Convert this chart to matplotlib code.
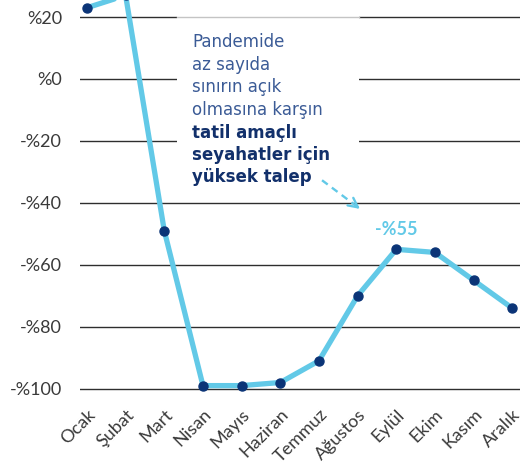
import matplotlib
matplotlib.use("Agg")
import matplotlib.pyplot as plt
from matplotlib.patches import Rectangle

months = ["Ocak", "Şubat", "Mart", "Nisan", "Mayıs", "Haziran", "Temmuz",
          "Ağustos", "Eylül", "Ekim", "Kasım", "Aralık"]
values = [23, 27, -49, -99, -99, -98, -91, -70, -55, -56, -65, -74]
yticks = [20, 0, -20, -40, -60, -80, -100]
ytick_labels = ["%20", "%0", "-%20", "-%40", "-%60", "-%80", "-%100"]
peak_label = "-%55"
note_normal = ["Pandemide", "az sayıda", "sınırın açık", "olmasına karşın"]
note_bold = ["tatil amaçlı", "seyahatler için", "yüksek talep"]

plt.rcParams['font.family'] = ['Lato', 'DejaVu Sans']

LINE = "#62c9e7"
DOT = "#0b3477"
fig = plt.figure(figsize=(5.32, 4.73), dpi=100)
ax = fig.add_axes([80/532, (473-398)/473, 440/532, 398/473])

x = list(range(len(months)))
ax.plot(x, values, color=LINE, lw=3.8, zorder=3, solid_capstyle='round',
        solid_joinstyle='round')
ax.plot(x, values, 'o', color=DOT, ms=6.5, zorder=4)

ax.set_xlim(-0.18, 11.2)
ax.set_ylim(-103, 25.5)
ax.set_yticks(yticks)
ax.set_yticklabels(ytick_labels, fontsize=13, color="#3a3a3a")
ax.set_xticks(x)
ax.set_xticklabels(months, rotation=45, ha='right', va='top',
                   rotation_mode='anchor', fontsize=13, color="#3a3a3a")
ax.tick_params(axis='both', length=0)
ax.tick_params(axis='y', pad=13)
ax.tick_params(axis='x', pad=6)
for s in ax.spines.values():
    s.set_visible(False)
ax.yaxis.grid(True, color="#2e2e2e", lw=1.0)
ax.set_axisbelow(True)

# annotation box
ax.add_patch(Rectangle((2.33, -39.3), 4.71, 60.0, facecolor='white',
                       edgecolor='none', zorder=1.5))
ax.plot([2.33, 7.04], [20, 20], color="#c4c4c4", lw=1.0, zorder=1.6)
ys = [12.0, 4.6, -2.7, -10.1, -17.5, -24.7, -31.8]
lines = note_normal + note_bold
for i, (t, yy) in enumerate(zip(lines, ys)):
    bold = i >= len(note_normal)
    ax.text(2.72, yy, t, fontsize=12, va='center', ha='left',
            family='DejaVu Sans',
            color="#12306b" if bold else "#3b5b96",
            fontweight='bold' if bold else 'normal', zorder=5)

# dashed arrow
ax.plot([6.08, 7.03], [-32.7, -41.6], color=LINE, lw=1.7, ls=(0, (3, 2.2)), zorder=5)
ax.annotate("", xy=(7.12, -42.5), xytext=(6.92, -40.6),
            arrowprops=dict(arrowstyle='->', color=LINE, lw=1.7,
                            mutation_scale=17), zorder=5)

ax.text(8, values[8] + 3.5, peak_label, color=LINE, fontsize=13,
        fontweight='bold', ha='center', va='bottom', zorder=5)

fig.savefig("out.png", dpi=100)
